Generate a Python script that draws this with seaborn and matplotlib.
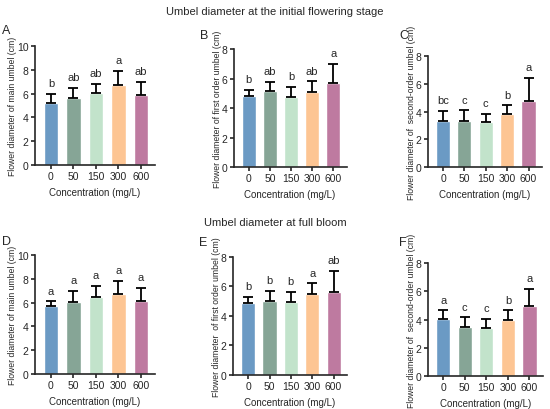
import pandas as pd
import seaborn as sns
import matplotlib.pyplot as plt

concentrations = ['0', '50', '150', '300', '600']
colors = ['#6b9ac4', '#86a596', '#c2e3cb', '#fdc593', '#be7aa0']

# means, standard deviations and significance letters per panel
a_mean = [5.2, 5.65, 6.05, 6.7, 5.85]
a_sd = [0.8, 0.8, 0.8, 1.25, 1.1]
a_sig = ['b', 'ab', 'ab', 'a', 'ab']

b_mean = [4.8, 5.15, 4.75, 5.1, 5.7]
b_sd = [0.45, 0.6, 0.7, 0.7, 1.3]
b_sig = ['b', 'ab', 'b', 'ab', 'a']

c_mean = [3.3, 3.3, 3.25, 3.85, 4.75]
c_sd = [0.75, 0.8, 0.6, 0.6, 1.7]
c_sig = ['bc', 'c', 'c', 'b', 'a']

d_mean = [5.7, 6.05, 6.45, 6.75, 6.1]
d_sd = [0.4, 0.95, 0.95, 1.1, 1.15]
d_sig = ['a', 'a', 'a', 'a', 'a']

e_mean = [4.9, 5.0, 4.95, 5.5, 5.65]
e_sd = [0.4, 0.7, 0.7, 0.7, 1.4]
e_sig = ['b', 'b', 'b', 'a', 'ab']

f_mean = [4.05, 3.45, 3.4, 4.0, 4.95]
f_sd = [0.6, 0.7, 0.65, 0.65, 1.25]
f_sig = ['a', 'c', 'c', 'b', 'a']

sns.set_style('ticks')
plt.rcParams['font.family'] = ['Liberation Sans', 'DejaVu Sans']

W, H = 550, 410
fig = plt.figure(figsize=(5.5, 4.1), dpi=100)

# letter, data, y max, y label, axes rect, letter position (pixels)
panels = [
    ('A', a_mean, a_sd, a_sig, 10, 'Flower diameter of main umbel (cm)', [0.0636, 0.595, 0.218, 0.29], (2, 31)),
    ('B', b_mean, b_sd, b_sig, 8, 'Flower diameter of first order umbel (cm)', [0.425, 0.590, 0.205, 0.288], (200, 36)),
    ('C', c_mean, c_sd, c_sig, 8, 'Flower diameter of  second-order umbel (cm)', [0.778, 0.590, 0.207, 0.271], (399, 36)),
    ('D', d_mean, d_sd, d_sig, 10, 'Flower diameter of main umbel (cm)', [0.0636, 0.0854, 0.218, 0.29], (2, 242)),
    ('E', e_mean, e_sd, e_sig, 8, 'Flower diameter  of first order umbel (cm)', [0.4236, 0.083, 0.207, 0.288], (199, 243)),
    ('F', f_mean, f_sd, f_sig, 8, 'Flower diameter of  second-order umbel (cm)', [0.778, 0.080, 0.209, 0.276], (399, 243)),
]

for letter, mean, sd, sig, ymax, ylabel, rect, pos in panels:
    ax = fig.add_axes(rect)
    df = pd.DataFrame({'conc': concentrations, 'mean': mean})
    sns.barplot(data=df, x='conc', y='mean', hue='conc', palette=colors,
                legend=False, width=0.66, errorbar=None, ax=ax, saturation=1)
    x = list(range(len(mean)))
    ax.errorbar(x, mean, yerr=[[0] * len(sd), sd], fmt='none', ecolor='black',
                elinewidth=1.3, capsize=3.5, capthick=1.3)
    step = ymax / 20
    for xi, m, s, t in zip(x, mean, sd, sig):
        ax.text(xi, m + s + step, t, ha='center', va='bottom', fontsize=8)
    ax.set_ylim(0, ymax)
    ax.set_yticks(range(0, ymax + 1, 2))
    ax.set_xlim(-0.71, 4.62)
    ax.set_xlabel('Concentration (mg/L)', fontsize=7)
    ax.set_ylabel(ylabel, fontsize=6.2, labelpad=0)
    ax.tick_params(labelsize=7.5, width=1.2, length=3, pad=1.5)
    for sp in ['left', 'bottom']:
        ax.spines[sp].set_linewidth(1.2)
    sns.despine(ax=ax)
    fig.text(pos[0] / W, 1 - pos[1] / H, letter, fontsize=9,
             ha='left', va='center')

fig.text(0.5, 0.97, 'Umbel diameter at the initial flowering stage',
         ha='center', va='center', fontsize=8)
fig.text(0.5, 0.456, 'Umbel diameter at full bloom',
         ha='center', va='center', fontsize=8)

fig.savefig('out.png', dpi=100)
